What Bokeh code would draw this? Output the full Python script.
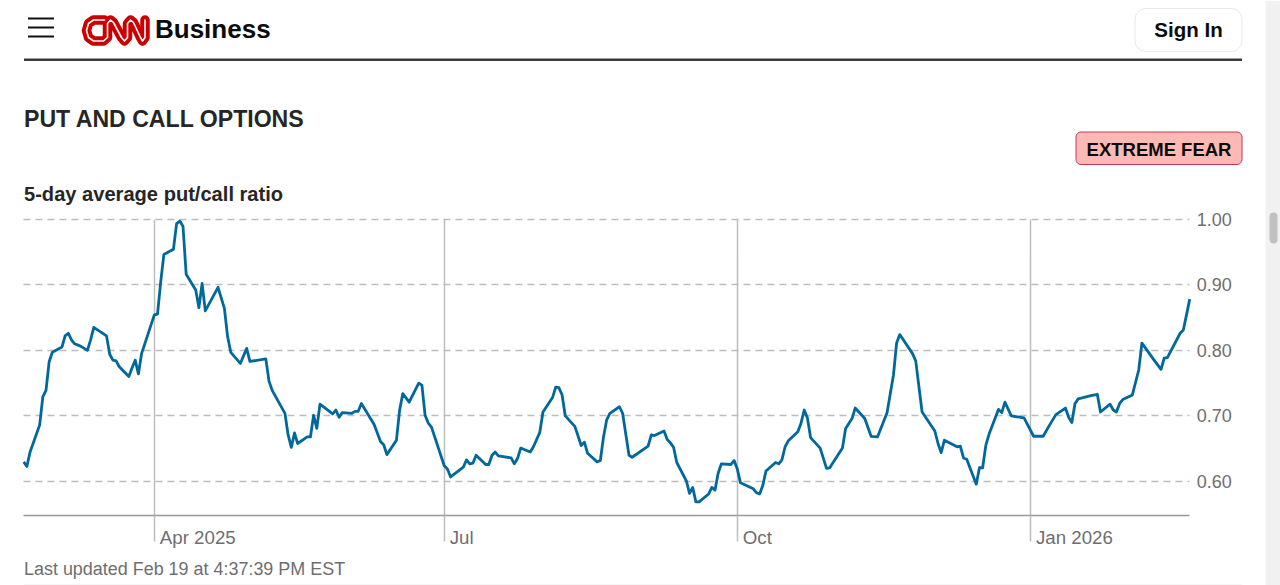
import pandas as pd
from bokeh.embed import file_html
from bokeh.models import BoxAnnotation, FixedTicker, Label, NumeralTickFormatter, PolyAnnotation, Range1d
from bokeh.plotting import figure
from bokeh.resources import INLINE

series_start = "2025-02-19"
day_offsets = [0, 1, 2, 5, 6, 7, 8, 9, 12, 13, 14, 15, 16, 18, 20, 21, 22, 26, 27, 28, 29, 30, 33, 34, 35, 36, 37, 41, 42, 43, 44, 47, 48, 49, 50, 51, 54, 55, 56, 57, 61, 63, 64, 65, 68, 70, 71, 76, 77, 78, 82, 83, 84, 85, 86, 89, 90, 91, 92, 93, 97, 98, 99, 100, 103, 104, 105, 106, 110, 112, 113, 114, 117, 118, 119, 121, 124, 125, 126, 127, 128, 132, 133, 134, 138, 139, 140, 141, 142, 145, 146, 147, 148, 149, 153, 154, 155, 156, 159, 160, 162, 163, 166, 167, 168, 169, 170, 173, 175, 176, 177, 180, 181, 182, 183, 184, 187, 188, 190, 191, 196, 197, 198, 201, 202, 203, 204, 205, 208, 209, 210, 211, 212, 215, 216, 217, 218, 219, 222, 223, 224, 225, 229, 230, 231, 232, 233, 236, 237, 238, 239, 240, 243, 244, 245, 246, 247, 250, 252, 253, 257, 258, 260, 261, 264, 266, 268, 271, 273, 274, 275, 279, 280, 282, 286, 287, 288, 289, 293, 294, 295, 296, 299, 300, 301, 302, 303, 306, 307, 308, 310, 314, 317, 320, 322, 324, 327, 328, 329, 330, 331, 335, 337, 338, 341, 342, 343, 344, 345, 348, 350, 351, 355, 357, 358, 359, 363, 364, 365, 366]
put_call_ratio = [.630, .623, .645, .686, .729, .739, .783, .797, .805, .822, .826, .816, .810, .806, .800, .816, .835, .822, .794, .785, .784, .775, .760, .773, .785, .764, .795, .854, .855, .904, .946, .954, .993, .997, .989, .916, .892, .865, .902, .860, .896, .864, .821, .797, .780, .803, .783, .787, .753, .739, .704, .671, .652, .674, .658, .668, .668, .701, .681, .718, .703, .709, .698, .705, .704, .707, .707, .719, .687, .661, .656, .641, .663, .709, .734, .721, .750, .747, .701, .689, .683, .624, .619, .607, .622, .633, .627, .628, .640, .626, .626, .640, .645, .639, .636, .627, .635, .651, .645, .653, .675, .706, .728, .744, .743, .732, .700, .684, .655, .660, .643, .630, .632, .668, .694, .704, .714, .704, .640, .637, .654, .671, .670, .677, .664, .659, .652, .629, .601, .582, .591, .569, .569, .581, .591, .587, .613, .627, .626, .632, .619, .598, .589, .583, .581, .594, .616, .629, .627, .633, .653, .662, .676, .689, .709, .697, .667, .651, .620, .621, .651, .681, .696, .712, .696, .669, .668, .705, .762, .811, .824, .795, .784, .706, .677, .658, .644, .663, .653, .654, .636, .634, .596, .621, .621, .655, .672, .710, .705, .721, .700, .697, .669, .669, .686, .702, .712, .698, .690, .719, .726, .731, .733, .706, .718, .709, .706, .719, .725, .732, .770, .811, .784, .771, .788, .789, .826, .831, .854, .878]
y_ticks = [0.6, 0.7, 0.8, 0.9, 1.0]
x_tick_dates = ["2025-04-01", "2025-07-01", "2025-10-01", "2026-01-01"]
x_tick_labels = ["Apr 2025", "Jul", "Oct", "Jan 2026"]

W, H = 1280, 585
FONT = "Liberation Sans"
LEFT, RIGHT, TOP, BOTTOM = 23.2, 1189.2, 218.6, 514.5     # where the plot area sits on the page
Y_MIN, Y_MAX = 0.549, 1.0
SPAN_DAYS = 366
px_per_day = (RIGHT - LEFT) / SPAN_DAYS
px_per_unit = (BOTTOM - TOP) / (Y_MAX - Y_MIN)

start = pd.Timestamp(series_start)
end = start + pd.Timedelta(days=SPAN_DAYS)
dates = start + pd.to_timedelta(day_offsets, unit="D")
tick_ts = pd.to_datetime(x_tick_dates)
tick_ms = [int(t.value / 1e6) for t in tick_ts]


def ms(t):
    return int(t.value / 1e6)


# The frame fills the page, because annotations are clipped to it; the chart keeps its own extent through bounds.
p = figure(width=W, height=H, output_backend="svg", toolbar_location=None,
           x_axis_type="datetime", y_axis_location="right",
           x_range=Range1d(start - pd.Timedelta(days=LEFT / px_per_day), start + pd.Timedelta(days=(W - LEFT) / px_per_day)),
           y_range=Range1d(Y_MIN - (H - BOTTOM) / px_per_unit, Y_MAX + TOP / px_per_unit),
           min_border_left=0, min_border_right=0, min_border_top=0, min_border_bottom=0)
p.outline_line_color = None
p.background_fill_color = "white"
p.border_fill_color = "white"

p.ygrid.ticker = FixedTicker(ticks=y_ticks)
p.ygrid.cross_bounds = (ms(start), ms(end))
p.ygrid.grid_line_color = "#bdbdbd"
p.ygrid.grid_line_width = 1.5
p.ygrid.grid_line_dash = [7, 5]
p.xgrid.ticker = FixedTicker(ticks=tick_ms)
p.xgrid.cross_bounds = (Y_MIN, Y_MAX)
p.xgrid.grid_line_color = "#bdbdbd"
p.xgrid.grid_line_width = 1.5

ya = p.yaxis[0]
ya.fixed_location = ms(end)
ya.ticker = FixedTicker(ticks=y_ticks)
ya.formatter = NumeralTickFormatter(format="0.00")
ya.axis_line_color = None
ya.major_tick_line_color = None
ya.minor_tick_line_color = None
ya.major_label_standoff = 1
ya.major_label_text_font = FONT
ya.major_label_text_font_size = "18px"
ya.major_label_text_color = "#6e6e6e"

xa = p.xaxis[0]
xa.fixed_location = Y_MIN
xa.bounds = (ms(start), ms(end))
xa.ticker = FixedTicker(ticks=tick_ms)
xa.major_label_overrides = {m: "" for m in tick_ms}
xa.axis_line_color = "#999999"
xa.axis_line_width = 1.6
xa.major_tick_line_color = "#bdbdbd"
xa.major_tick_line_width = 1.5
xa.major_tick_in = 0
xa.major_tick_out = 26
xa.minor_tick_line_color = None

p.line(dates, put_call_ratio, line_color="#00689c", line_width=2.8, line_join="round")


def text(x, y, s, size, color, bold=False, align="left"):
    p.add_layout(Label(x=x, y=y, x_units="canvas", y_units="canvas", text=s, level="overlay",
                       text_font=FONT, text_font_size=f"{size}px", text_color=color,
                       text_font_style="bold" if bold else "normal",
                       text_align=align, text_baseline="middle"))


def box(l, r, t, b, fill, line=None, radius=0, lw=1):
    p.add_layout(BoxAnnotation(left=l, right=r, top=t, bottom=b,
                               left_units="canvas", right_units="canvas", top_units="canvas", bottom_units="canvas",
                               fill_color=fill, fill_alpha=1, line_color=line, line_alpha=1 if line else 0,
                               line_width=lw, border_radius=radius, level="overlay"))


def stroke(points, color, width):
    xs = [a for a, _ in points] + [a for a, _ in reversed(points)]
    ys = [b for _, b in points] + [b for _, b in reversed(points)]
    p.add_layout(PolyAnnotation(xs=xs, ys=ys, xs_units="canvas", ys_units="canvas",
                                fill_alpha=0, line_color=color, line_width=width, line_alpha=1,
                                line_join="round", level="overlay"))


# page chrome
for hy in (18, 27, 36):
    box(27.5, 53.5, hy - 1, hy + 1, "#111111")
logo = [(104, 19.5), (93, 19.5), (88, 23), (86, 30), (88, 37), (93, 40.5), (103, 40.5), (107, 37), (107, 23), (110, 19.5),
        (113, 22), (121, 37), (124, 40.5), (127, 37), (127, 23), (130, 19.5), (133, 22), (140, 37), (142, 40.5), (144.5, 37), (144.5, 19.5)]
stroke(logo, "#cc0000", 9.5)
stroke(logo, "#ffffff", 1.6)
text(154.5, 28.5, "Business", 26, "#0c0c0c", bold=True)
box(1134.5, 1241.5, 8, 51, "#ffffff", "#e8e8e8", 11, 1)
text(1188, 28.5, "Sign In", 20.5, "#0c0c0c", bold=True, align="center")
box(23.5, 1241.5, 58, 60.5, "#3a3a3a")
text(23.5, 118, "PUT AND CALL OPTIONS", 23.1, "#262626", bold=True)
box(1075.5, 1241.5, 131.5, 164, "#ffb9b4", "#c0395a", 5, 1)
text(1158.5, 148.5, "EXTREME FEAR", 18.5, "#0c0c0c", bold=True, align="center")
text(23.5, 193.3, "5-day average put/call ratio", 20.1, "#262626", bold=True)
for ts, lab in zip(tick_ts, x_tick_labels):
    px = LEFT + (ts - start).days * px_per_day
    text(px + 5.5, 537.2, lab, 18.7, "#6e6e6e")
text(23.5, 568.7, "Last updated Feb 19 at 4:37:39 PM EST", 17.95, "#6e6e6e")
box(23.5, 1241.5, 584, 585, "#eeeeee")
box(1265, 1280, 0, 585, "#f1f1f1")
box(1269, 1277, 212, 243, "#c1c1c1", None, 4)

open("out.html", "w").write(file_html(p, INLINE))
